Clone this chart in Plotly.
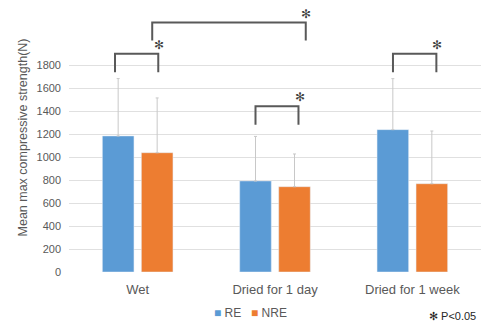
import plotly.graph_objects as go

categories = ["Wet", "Dried for 1 day", "Dried for 1 week"]
re_values = [1185, 793, 1240]
nre_values = [1039, 743, 769]
re_err = [500, 388, 444]
nre_err = [477, 285, 459]
y_ticks = [0, 200, 400, 600, 800, 1000, 1200, 1400, 1600, 1800]

# significance brackets: (x_left, x_right, y_top, y_bottom) in axis units
brackets = [
    (-0.165, 0.150, 1902, 1739),
    (0.106, 1.224, 2174, 2017),
    (0.858, 1.171, 1443, 1283),
    (1.859, 2.175, 1902, 1739),
]
star_pos = [(0.158, 1975), (1.224, 2245), (1.18, 1520), (2.18, 1975)]

BLUE = "#5B9BD5"
ORANGE = "#ED7D31"
GRAY = "#595959"
FONT = "Liberation Sans, Arial, sans-serif"

fig = go.Figure()
fig.add_trace(go.Bar(
    name="RE", x=categories, y=re_values, marker_color=BLUE,
    width=0.23, offset=-0.257,
    error_y=dict(type="data", array=re_err, arrayminus=[0] * 3, symmetric=False,
                 color="#c8c8c8", thickness=1, width=1.5),
))
fig.add_trace(go.Bar(
    name="NRE", x=categories, y=nre_values, marker_color=ORANGE,
    width=0.23, offset=0.027,
    error_y=dict(type="data", array=nre_err, arrayminus=[0] * 3, symmetric=False,
                 color="#c8c8c8", thickness=1, width=1.5),
))

for xl, xr, yt, yb in brackets:
    fig.add_shape(type="path", xref="x", yref="y",
                  path=f"M {xl},{yb} L {xl},{yt} L {xr},{yt} L {xr},{yb}",
                  line=dict(color=GRAY, width=2))
for sx, sy in star_pos:
    fig.add_annotation(x=sx, y=sy, xref="x", yref="y", text="✻", showarrow=False,
                       font=dict(size=12, color="#404040", family="DejaVu Sans"))

# custom legend
fig.add_annotation(x=0.348, y=0, xref="paper", yref="paper", yshift=-41,
                   xanchor="left", yanchor="middle", showarrow=False,
                   text=f"<span style='color:{BLUE}'>■</span> RE",
                   font=dict(size=12, color=GRAY, family=FONT))
fig.add_annotation(x=0.436, y=0, xref="paper", yref="paper", yshift=-41,
                   xanchor="left", yanchor="middle", showarrow=False,
                   text=f"<span style='color:{ORANGE}'>■</span> NRE",
                   font=dict(size=12, color=GRAY, family=FONT))

fig.add_annotation(x=1, y=0, xref="paper", yref="paper", yshift=-44, xshift=-3,
                   xanchor="right", yanchor="middle", text="✻ P<0.05", showarrow=False,
                   font=dict(size=11, color="#262626", family=FONT))

fig.update_layout(
    width=481, height=325,
    margin=dict(l=69, r=0, t=3, b=53),
    paper_bgcolor="white", plot_bgcolor="white",
    font=dict(family=FONT, size=11, color=GRAY),
    showlegend=False,
    xaxis=dict(showline=False, showgrid=False, ticks="", tickfont=dict(size=13, color=GRAY),
               range=[-0.5, 2.5], automargin=False, ticklabelstandoff=8),
    yaxis=dict(range=[0, 2343], tickvals=y_ticks, showgrid=True, gridcolor="#e0e0e0",
               gridwidth=1, zeroline=False, showline=False, ticks="", automargin=False,
               tickfont=dict(size=11, color=GRAY), ticklabelstandoff=7,
               title=dict(text="Mean max compressive strength(N)", standoff=6,
                          font=dict(size=12.5, color=GRAY))),
)

fig.write_html("out.html", config={"displayModeBar": False},
               post_script="document.body.style.margin='0px';")
